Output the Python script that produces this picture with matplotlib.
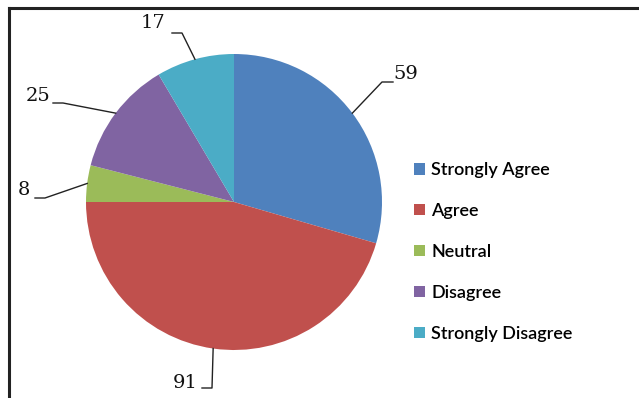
import numpy as np
import matplotlib.pyplot as plt
from matplotlib.lines import Line2D
from matplotlib.patches import Patch

categories = ['Strongly Agree', 'Agree', 'Neutral', 'Disagree', 'Strongly Disagree']
counts = [59, 91, 8, 25, 17]
colors = ['#4F81BD', '#C0504D', '#9BBB59', '#8064A2', '#4BACC6']

W, H = 639, 398
fig = plt.figure(figsize=(W / 100, H / 100), dpi=100)

# pie centre and radius in pixels
cx, cy, r = 234, 202, 148
ax = fig.add_axes([(cx - r) / W, (H - cy - r) / H, 2 * r / W, 2 * r / H])
wedges, _ = ax.pie(counts, colors=colors, startangle=90, counterclock=False,
                   radius=1, wedgeprops=dict(linewidth=0))
ax.set_xlim(-1, 1)
ax.set_ylim(-1, 1)


def to_data(x, y):
    return (x - cx) / r, (cy - y) / r


# elbow point, end of leader, text centre (pixels)
label_layout = [
    ((382, 82), (393, 82), (406, 74)),
    ((212, 388), (202, 388), (185, 383)),
    ((45, 198), (35, 198), (24, 190)),
    ((63, 103), (53, 103), (38, 96)),
    ((182, 33), (172, 33), (153, 23)),
]

for w, n, (elbow, end, txt) in zip(wedges, counts, label_layout):
    mid = np.deg2rad((w.theta1 + w.theta2) / 2)
    start = (np.cos(mid), np.sin(mid))
    pts = [start, to_data(*elbow), to_data(*end)]
    ax.plot([p[0] for p in pts], [p[1] for p in pts], color='#222222',
            lw=1, clip_on=False)
    tx, ty = to_data(*txt)
    ax.text(tx, ty, str(n), ha='center', va='center', fontsize=14,
            family='DejaVu Serif', color='#111111', clip_on=False)

handles = [Patch(facecolor=c, edgecolor='none') for c in colors]
fig.legend(handles, categories, loc='center left',
           bbox_to_anchor=(398 / W, 1 - 252 / H), frameon=False,
           prop=dict(family='Lato', size=13, weight='semibold'),
           handlelength=0.6, handleheight=0.6, handletextpad=0.35,
           labelspacing=1.38)

# chart frame edges
fig.add_artist(Line2D([9 / W, 1], [1 - 8 / H, 1 - 8 / H], color='#222222', lw=2.2))
fig.add_artist(Line2D([9 / W, 9 / W], [0, 1 - 8 / H], color='#222222', lw=2.2))

fig.savefig('out.png', dpi=100)
